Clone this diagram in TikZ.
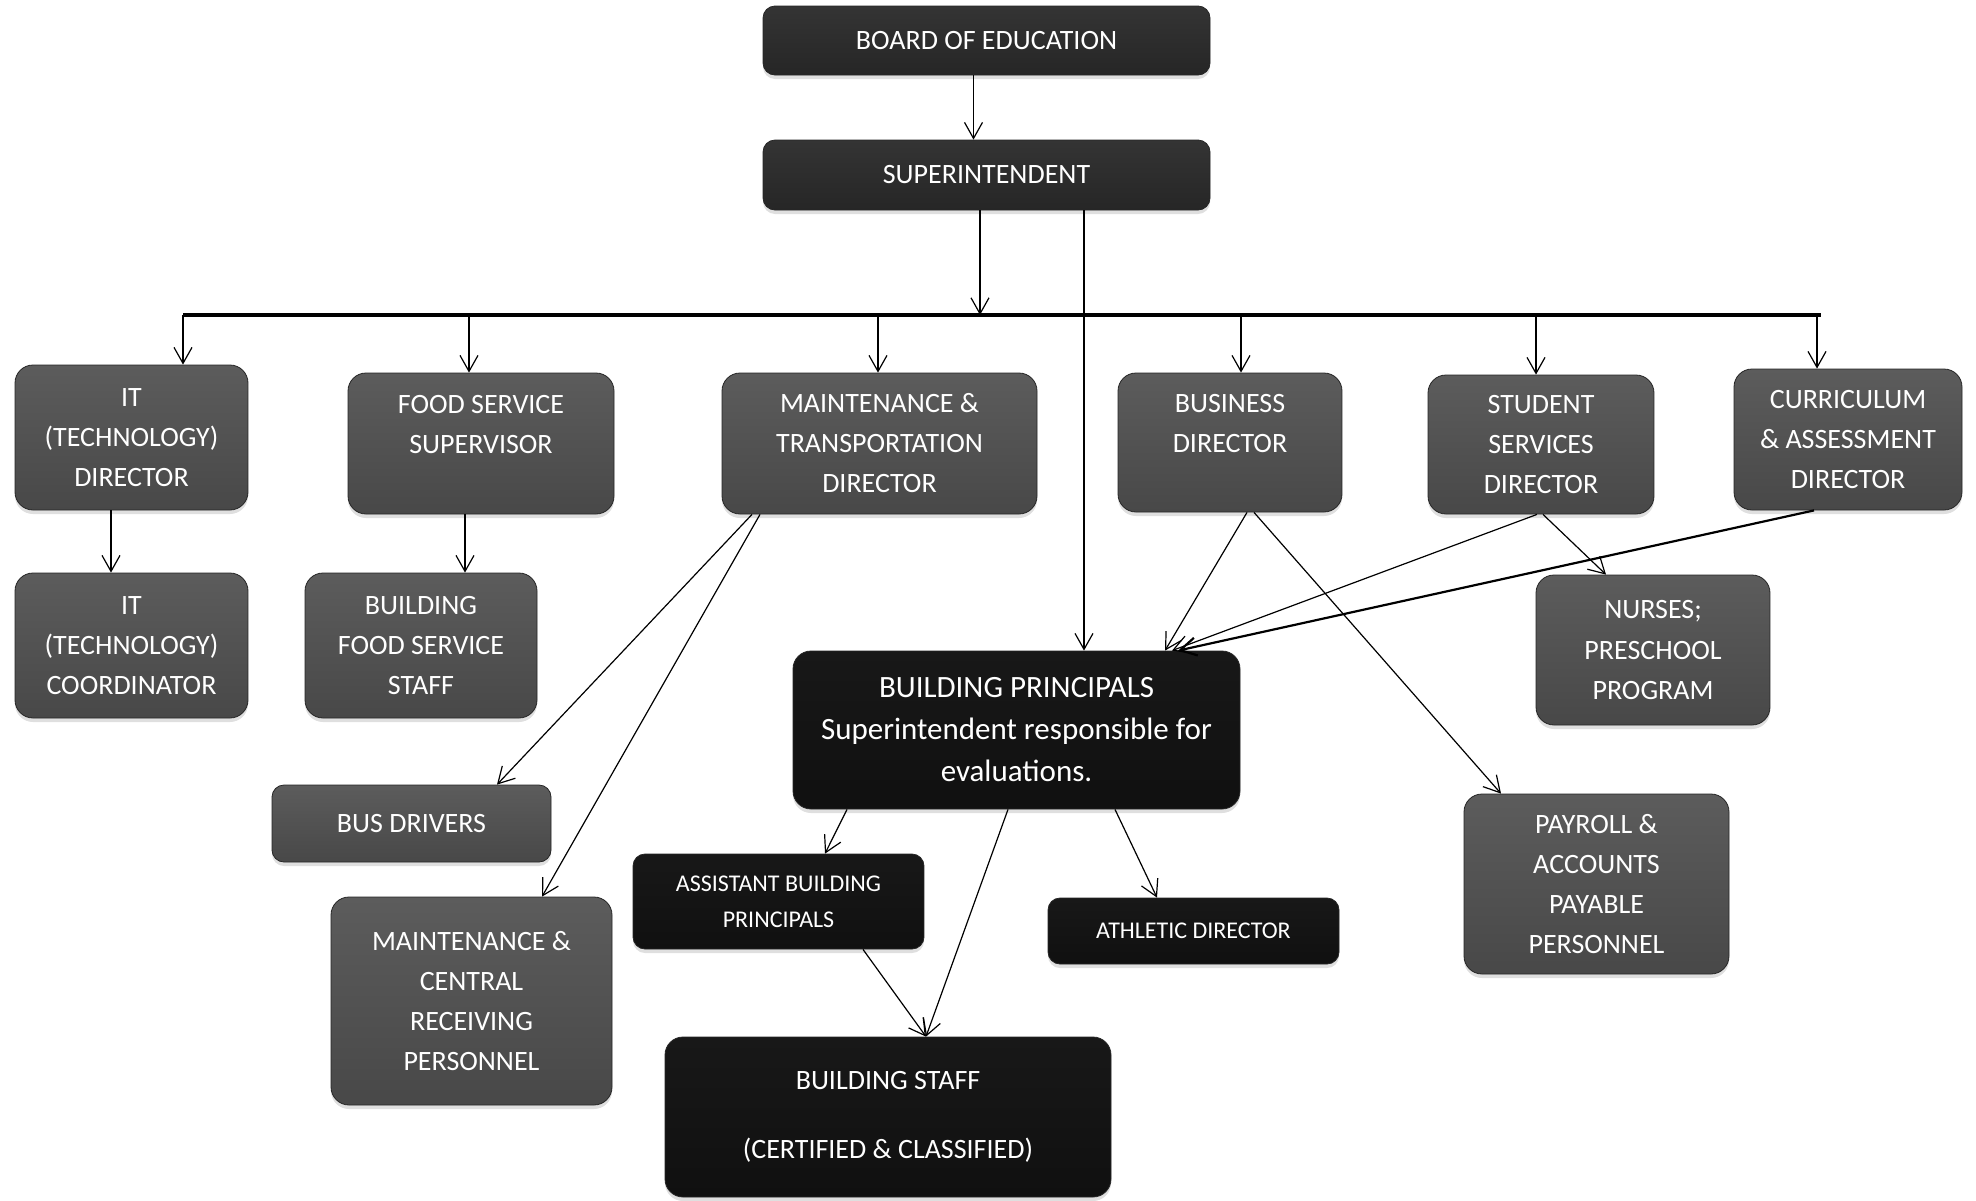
\documentclass[tikz,border=0pt]{standalone}
\usepackage{fontspec}
\setmainfont{Carlito}
\usepackage{tikz}
\usetikzlibrary{arrows.meta,calc,shadows}
\definecolor{grayTop}{RGB}{92,92,92}
\definecolor{grayMid}{RGB}{118,118,118}
\definecolor{grayBot}{RGB}{72,72,72}
\definecolor{darkTop}{RGB}{52,52,52}
\definecolor{darkMid}{RGB}{72,72,72}
\definecolor{darkBot}{RGB}{38,38,38}
\definecolor{blackTop}{RGB}{24,24,24}
\definecolor{blackMid}{RGB}{40,40,40}
\definecolor{blackBot}{RGB}{16,16,16}
\tikzset{
  orgbox/.style   = {rounded corners=9pt, align=center, text=white, inner sep=2pt, draw=black!85,
                     font=\fontsize{14}{20}\selectfont,
                     drop shadow={shadow xshift=0pt, shadow yshift=-2pt, opacity=0.25}},
  graybox/.style  = {orgbox, top color=grayTop, middle color=grayMid, bottom color=grayBot},
  darkbox/.style  = {orgbox, rounded corners=6pt, top color=darkTop, middle color=darkMid, bottom color=darkBot},
  blackbox/.style = {orgbox, top color=blackTop, middle color=blackMid, bottom color=blackBot},
  link/.style     = {-{Straight Barb[length=8pt,width=9pt]}, line width=0.6pt, draw=black},
}

\begin{document}
\begin{tikzpicture}[x=0.5pt, y=-0.5pt]
  \useasboundingbox (0,0) rectangle (1976,1200);

  % top of the chart
  \node[darkbox, minimum width=223.5pt, minimum height=34.5pt] (board) at (986.5,40.5) {BOARD OF EDUCATION};
  \node[darkbox, minimum width=223.5pt, minimum height=35pt] (super) at (986.5,175) {SUPERINTENDENT};

  % directors
  \node[graybox, minimum width=116.5pt, minimum height=72.5pt] (itdir) at (131.5,437.5) {IT\\(TECHNOLOGY)\\DIRECTOR};
  \node[graybox, minimum width=133pt, minimum height=70.5pt] (foodsup) at (481,443.5) {FOOD SERVICE\\SUPERVISOR\\[-6.5pt]\strut};
  \node[graybox, minimum width=157.5pt, minimum height=70.5pt] (maintdir) at (879.5,443.5) {MAINTENANCE \&\\TRANSPORTATION\\DIRECTOR};
  \node[graybox, minimum width=112pt, minimum height=69.5pt] (busdir) at (1230,442.5) {BUSINESS\\DIRECTOR\\[-6.5pt]\strut};
  \node[graybox, minimum width=113pt, minimum height=69.5pt] (studdir) at (1541,444.5) {STUDENT\\SERVICES\\DIRECTOR};
  \node[graybox, minimum width=114pt, minimum height=70.5pt] (currdir) at (1848,439.5) {CURRICULUM\\\& ASSESSMENT\\DIRECTOR};

  % staff under the directors
  \node[graybox, minimum width=116.5pt, minimum height=72.5pt] (itcoord) at (131.5,645.5) {IT\\(TECHNOLOGY)\\COORDINATOR};
  \node[graybox, minimum width=116pt, minimum height=72.5pt] (foodstaff) at (421,645.5) {BUILDING\\FOOD SERVICE\\STAFF};
  \node[graybox, minimum width=117pt, minimum height=75pt] (nurses) at (1653,650) {NURSES;\\PRESCHOOL\\PROGRAM};
  \node[graybox, rounded corners=6pt, minimum width=139.5pt, minimum height=38.5pt] (busdrv) at (411.5,823.5) {BUS DRIVERS};
  \node[graybox, minimum width=132.5pt, minimum height=90pt] (payroll) at (1596.5,884) {PAYROLL \&\\ACCOUNTS\\PAYABLE\\PERSONNEL};
  \node[graybox, minimum width=140.5pt, minimum height=104pt] (maintcr) at (471.5,1001) {MAINTENANCE \&\\CENTRAL\\RECEIVING\\PERSONNEL};

  % buildings
  \node[blackbox, minimum width=223.5pt, minimum height=79pt, font=\fontsize{15.5}{21}\selectfont] (princ) at (1016.5,730)
    {BUILDING PRINCIPALS\\Superintendent responsible for\\evaluations.};
  \node[blackbox, rounded corners=6pt, minimum width=145.5pt, minimum height=47.5pt, font=\fontsize{12}{18}\selectfont] (asst) at (778.5,901.5)
    {ASSISTANT BUILDING\\PRINCIPALS};
  \node[blackbox, rounded corners=6pt, minimum width=145.5pt, minimum height=33pt, font=\fontsize{12}{18}\selectfont] (athl) at (1193.5,931) {ATHLETIC DIRECTOR};
  \node[blackbox, minimum width=223pt, minimum height=80pt] (bstaff) at (888,1117) {BUILDING STAFF\\[14.5pt](CERTIFIED \& CLASSIFIED)};

  % bus line
  \coordinate (b1) at (183,315);
  \coordinate (b2) at (469,315);
  \coordinate (b3) at (878,315);
  \coordinate (b4) at (1241,315);
  \coordinate (b5) at (1536,315);
  \coordinate (b6) at (1821,315);
  \draw[line width=1.6pt] (b1) -- (b6);

  \draw[link] ([xshift=-6.5pt]board.south) -- ([xshift=-6.5pt]super.north);
  \draw[link] ([xshift=-3.25pt]super.south) -- ([xshift=-3.25pt]super.south |- b1);
  \draw[link] ([xshift=48.75pt]super.south) -- ([xshift=48.75pt]super.south |- princ.north);

  \draw[link] (b1) -- (b1 |- itdir.north);
  \draw[link] (b2) -- (b2 |- foodsup.north);
  \draw[link] (b3) -- (b3 |- maintdir.north);
  \draw[link] (b4) -- (b4 |- busdir.north);
  \draw[link] (b5) -- (b5 |- studdir.north);
  \draw[link] ([xshift=-2pt]b6) -- ([xshift=-2pt]b6 |- currdir.north);

  \draw[link] ([xshift=-10.25pt]itdir.south) -- ([xshift=-10.25pt]itcoord.north);
  \draw[link] ([xshift=-8pt]foodsup.south) -- ([xshift=22pt]foodstaff.north);

  \draw[link] ([xshift=-63.75pt]maintdir.south) -- ([xshift=42.75pt]busdrv.north);
  \draw[link] ([xshift=-59.75pt]maintdir.south) -- ([xshift=35.25pt]maintcr.north);

  \draw[link] ([xshift=8.5pt]busdir.south) -- ([xshift=74.25pt]princ.north);
  \draw[link] ([xshift=12pt]busdir.south) -- ([xshift=-47.75pt]payroll.north);
  \draw[link] ([xshift=-2pt]studdir.south) -- ([xshift=77.75pt]princ.north);
  \draw[link] ([xshift=1pt]studdir.south) -- ([xshift=-23.5pt]nurses.north);
  \draw[link, line width=1.1pt] ([xshift=-17pt]currdir.south) -- ([xshift=80.75pt]princ.north);

  \draw[link] ([xshift=-84.75pt]princ.south) -- ([xshift=23.25pt]asst.north);
  \draw[link] ([xshift=-4.25pt]princ.south) -- ([xshift=19pt]bstaff.north);
  \draw[link] ([xshift=49.25pt]princ.south) -- ([xshift=-18.25pt]athl.north);
  \draw[link] ([xshift=42.25pt]asst.south) -- ([xshift=19pt]bstaff.north);
\end{tikzpicture}
\end{document}
